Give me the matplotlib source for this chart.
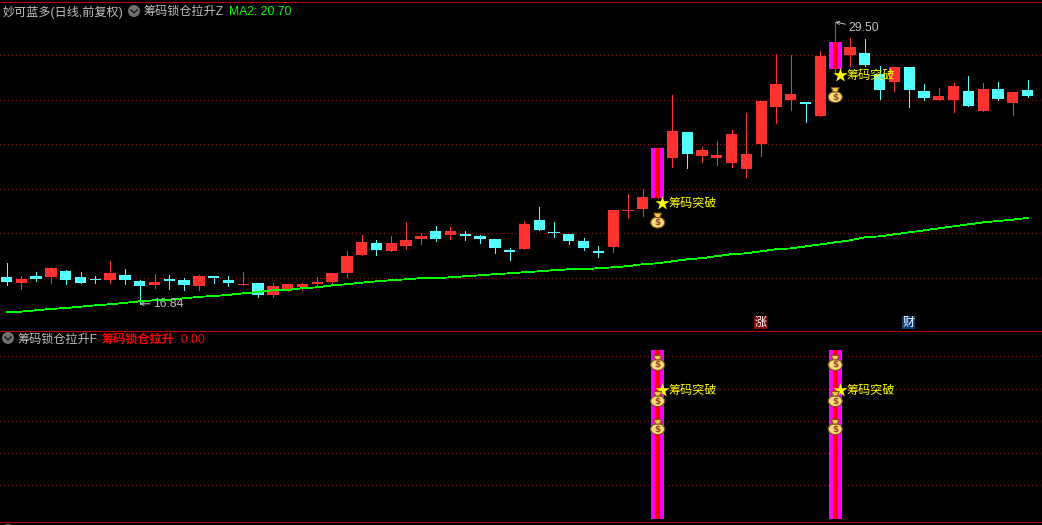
import matplotlib
matplotlib.use('Agg')
import matplotlib.pyplot as plt
from matplotlib.patches import Circle, Ellipse, Polygon, Rectangle

plt.rcParams['font.family'] = ['Liberation Sans', 'Noto Sans CJK SC']

# candles, one value per trading day
opens = [18.04, 17.78, 18.09, 18.04, 18.31, 18.04, 17.96, 17.91, 18.13, 17.87,
         17.69, 17.96, 17.91, 17.64, 18.09, 17.91, 17.69, 17.78, 17.24, 17.46,
         17.60, 17.73, 17.82, 18.22, 19.03, 19.57, 19.21, 19.44, 19.75, 20.11,
         19.93, 19.98, 19.89, 19.75, 19.26, 19.30, 20.61, 20.07, 19.98, 19.66,
         19.21, 19.39, 21.01, 21.10, 21.60, 23.39, 24.56, 23.48, 23.39, 23.17,
         22.90, 24.02, 25.68, 26.00, 25.91, 25.28, 27.39, 28.02, 28.11, 27.17,
         26.81, 27.48, 26.40, 26.00, 26.00, 26.40, 25.50, 26.49, 25.86, 26.45]
closes = [17.82, 17.96, 17.96, 18.45, 17.91, 17.78, 17.91, 18.22, 17.91, 17.64,
          17.82, 17.87, 17.69, 18.09, 18.00, 17.78, 17.73, 17.24, 17.64, 17.73,
          17.73, 17.82, 18.22, 18.99, 19.62, 19.26, 19.57, 19.71, 19.89, 19.75,
          20.11, 19.89, 19.75, 19.35, 19.17, 20.43, 20.16, 20.02, 19.66, 19.35,
          19.12, 21.06, 21.06, 21.64, 23.84, 24.61, 23.57, 23.75, 23.53, 24.47,
          23.57, 25.95, 26.72, 26.27, 25.82, 27.98, 28.61, 28.38, 27.57, 26.45,
          27.48, 26.45, 26.09, 26.18, 26.63, 25.73, 26.49, 26.04, 26.36, 26.18]
highs = [18.67, 18.09, 18.27, 18.49, 18.36, 18.27, 18.09, 18.76, 18.40, 17.91,
         18.18, 18.13, 18.00, 18.13, 18.09, 18.09, 18.27, 17.78, 17.78, 17.73,
         17.78, 18.04, 18.22, 19.21, 19.93, 19.71, 19.89, 20.52, 20.02, 20.34,
         20.29, 20.11, 19.93, 19.75, 19.35, 20.56, 21.19, 20.52, 19.98, 19.80,
         19.44, 21.06, 21.78, 22.00, 23.84, 26.22, 24.56, 23.89, 24.16, 24.65,
         25.42, 25.95, 28.07, 28.02, 25.91, 28.20, 29.50, 28.79, 28.74, 27.53,
         27.48, 27.48, 26.72, 26.54, 26.76, 27.08, 26.76, 26.81, 26.36, 26.90]
lows = [17.69, 17.51, 17.87, 17.78, 17.73, 17.78, 17.78, 17.78, 17.73, 16.84,
        17.55, 17.51, 17.46, 17.46, 17.78, 17.64, 17.69, 17.15, 17.15, 17.42,
        17.46, 17.64, 17.78, 18.04, 19.03, 19.03, 19.21, 19.30, 19.53, 19.66,
        19.75, 19.71, 19.57, 19.12, 18.81, 19.30, 20.16, 19.84, 19.53, 19.26,
        18.94, 19.17, 20.70, 20.79, 21.60, 22.99, 22.94, 23.21, 23.08, 22.99,
        22.54, 23.48, 24.97, 25.55, 25.01, 25.28, 27.21, 27.53, 27.53, 26.04,
        26.40, 25.68, 26.00, 26.00, 25.46, 25.73, 25.50, 26.00, 25.33, 26.13]
ma2 = [16.46, 16.49, 16.55, 16.61, 16.65, 16.71, 16.77, 16.82, 16.88, 16.95,
       17.00, 17.02, 17.09, 17.15, 17.19, 17.24, 17.31, 17.37, 17.45, 17.46,
       17.54, 17.58, 17.67, 17.72, 17.79, 17.85, 17.90, 17.94, 17.99, 17.99,
       18.03, 18.08, 18.12, 18.17, 18.21, 18.26, 18.30, 18.35, 18.39, 18.39,
       18.44, 18.48, 18.53, 18.62, 18.66, 18.75, 18.84, 18.89, 18.98, 19.07,
       19.11, 19.20, 19.29, 19.33, 19.42, 19.51, 19.60, 19.69, 19.83, 19.87,
       19.96, 20.05, 20.14, 20.23, 20.32, 20.41, 20.50, 20.56, 20.62, 20.70]

signal_days = [44, 56]
signal_tops = [23.84, 28.61]
signal_bottoms = [21.60, 27.39]
star_prices = [21.38, 27.12]
bag_prices = [20.58, 26.22]
price_grid = [18, 20, 22, 24, 26, 28]

lower_top = 1.05
lower_grid = [0.21, 0.41, 0.61, 0.81, 1.01]
lower_star = 0.80
lower_bags = [0.97, 0.745, 0.571]

RED = '#ff3232'
CYAN = '#54ffff'
GRID = '#8c0f0f'
FRAME = '#c00000'
GREY = '#c0c0c0'
YELLOW = '#ffff00'
FS = 8.7

W, H = 1042, 525
fig = plt.figure(figsize=(W / 100, H / 100), dpi=100, facecolor='black')


def make_axes(y_top, y_bottom, ylim):
    ax = fig.add_axes([0, 1 - y_bottom / H, 1, (y_bottom - y_top) / H], facecolor='black')
    ax.set_xlim(-0.44, 69.97)
    ax.set_ylim(*ylim)
    ax.axis('off')
    return ax


top = make_axes(2, 330.5, (15.64, 30.40))
low = make_axes(331, 521, (-0.0124, 1.168))
deco = fig.add_axes([0, 0, 1, 1], facecolor='none')
deco.set_xlim(0, W)
deco.set_ylim(H, 0)
deco.axis('off')

for p in price_grid:
    top.axhline(p, color=GRID, lw=0.72, ls=(0, (1, 3)), antialiased=False, zorder=1)
for v in lower_grid:
    low.axhline(v, color=GRID, lw=0.72, ls=(0, (1, 3)), antialiased=False, zorder=1)

# candles
for i in range(len(opens)):
    color = RED if closes[i] > opens[i] else CYAN
    top.vlines(i, lows[i], highs[i], color=color, lw=0.7, antialiased=False, zorder=2)
    body = max(abs(closes[i] - opens[i]), 0.04)
    top.bar(i, body, bottom=min(opens[i], closes[i]), width=0.76, color=color,
            linewidth=0, antialiased=False, zorder=3)

top.plot(range(len(ma2)), ma2, color='#00ff00', lw=0.6, antialiased=False, zorder=4)


def money_bag(ax, x, y):
    px, py = ax.transData.transform((x, y))
    py = H - py
    deco.add_patch(Ellipse((px, py + 2), 14, 11, fc='#f8dc78', ec='#7a5512', lw=0.8, zorder=8))
    deco.add_patch(Polygon([(px - 4, py - 7.5), (px + 4, py - 7.5), (px + 2, py - 3), (px - 2, py - 3)],
                           closed=True, fc='#f2c94e', ec='#7a5512', lw=0.8, zorder=8))
    deco.text(px, py + 2, '$', color='#9a4a2a', fontsize=6.5, fontweight='bold',
              family='DejaVu Sans', ha='center', va='center', zorder=9)


def signal_label(ax, x, y):
    ax.scatter([x + 0.32], [y], marker='*', s=115, color=YELLOW, linewidths=0, zorder=10)
    ax.annotate('筹码突破', xy=(x, y), xytext=(11, -1), textcoords='offset pixels',
                color=YELLOW, fontsize=FS, ha='left', va='center', zorder=10)


for d, t, b, sp, bp in zip(signal_days, signal_tops, signal_bottoms, star_prices, bag_prices):
    top.bar(d, t - b, bottom=b, width=0.88, color='#ff00ff', linewidth=0, antialiased=False, zorder=5)
    top.bar(d, t - b, bottom=b, width=0.36, color='#ff0000', linewidth=0, antialiased=False, zorder=6)
    signal_label(top, d, sp)
    money_bag(top, d, bp)

    low.bar(d, lower_top, width=0.88, color='#ff00ff', linewidth=0, antialiased=False, zorder=5)
    low.bar(d, lower_top, width=0.36, color='#ff0000', linewidth=0, antialiased=False, zorder=6)
    signal_label(low, d, lower_star)
    for v in lower_bags:
        money_bag(low, d, v)

# high / low marks
arrow = dict(arrowstyle='->', color=GREY, lw=0.7, shrinkA=0, shrinkB=0, mutation_scale=6)
top.annotate('16.84', xy=(lows.index(min(lows)), min(lows)), xytext=(13, 0), textcoords='offset pixels',
             color=GREY, fontsize=FS, va='center', arrowprops=arrow, zorder=9)
top.annotate('29.50', xy=(highs.index(max(highs)), max(highs)), xytext=(13, -6), textcoords='offset pixels',
             color=GREY, fontsize=FS, va='center', arrowprops=arrow, zorder=9)

# frame lines
for y in [1.5, 330.5, 521.5]:
    deco.plot([0, W], [y, y], color=FRAME, lw=0.72, antialiased=False, zorder=7)


def menu_icon(x, y):
    deco.add_patch(Circle((x, y), 6, fc='#707070', ec='none', zorder=8))
    deco.plot([x - 3, x, x + 3], [y - 1, y + 2, y - 1], color='#1a1a1a', lw=1, zorder=9)


# header texts
deco.text(3, 12, '妙可蓝多(日线,前复权)', color=GREY, fontsize=FS, va='center')
menu_icon(134, 11)
deco.text(144, 12, '筹码锁仓拉升Z', color=GREY, fontsize=FS, va='center')
deco.text(229, 12, 'MA2: 20.70', color='#00ff00', fontsize=FS, va='center')
menu_icon(8, 338)
deco.text(17, 340, '筹码锁仓拉升F', color=GREY, fontsize=FS, va='center')
deco.text(102, 340, '筹码锁仓拉升', color='#ff0000', fontsize=FS, fontweight='bold', va='center')
deco.text(174, 340, ': 0.00', color='#ff0000', fontsize=FS, va='center')
menu_icon(8, 530)

# news badges
deco.add_patch(Rectangle((754, 316), 13, 13, fc='#800808', ec='none', zorder=8))
deco.text(760.5, 322.5, '涨', color='white', fontsize=FS, ha='center', va='center', zorder=9)
deco.add_patch(Rectangle((902, 316), 13, 13, fc='#0c3c78', ec='none', zorder=8))
deco.text(908.5, 322.5, '财', color='white', fontsize=FS, ha='center', va='center', zorder=9)

fig.savefig('out.png', dpi=100, facecolor='black')
